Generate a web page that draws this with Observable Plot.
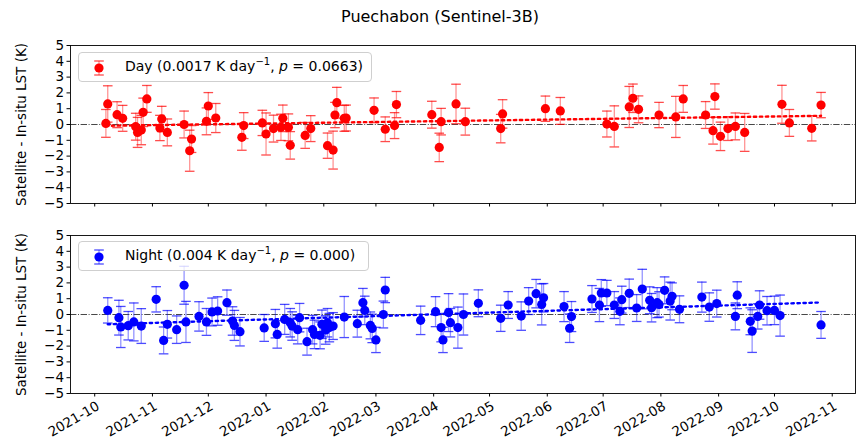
<!DOCTYPE html>
<html>
<head>
<meta charset="utf-8">
<script src="https://cdn.jsdelivr.net/npm/d3@7"></script>
<script src="https://cdn.jsdelivr.net/npm/@observablehq/plot@0.6"></script>
<style>
  html, body { margin: 0; padding: 0; background: white; }
  #wrap { position: relative; width: 860px; height: 442px; font-family: "DejaVu Sans", sans-serif; overflow: hidden; }
  #wrap svg.plot { position: absolute; left: 0; }
  .title { position: absolute; left: 440px; top: 7px; transform: translateX(-50%); font-size: 16px; white-space: nowrap; }
  .legend { position: absolute; border: 1px solid #cfcfcf; border-radius: 4px; background: rgba(255,255,255,0.8); box-sizing: border-box; }
  .legend svg { position: absolute; left: 0; top: 0; }
  .legend span { position: absolute; left: 46px; top: 5px; font-size: 14px; white-space: nowrap; }
  .legend sup { font-size: 10px; vertical-align: 6px; line-height: 0; }
</style>
</head>
<body>
<div id="wrap"></div>
<script>
const titleText = "Puechabon (Sentinel-3B)";
const yLabel = "Satellite - In-situ LST (K)";
const dayLegend = 'Day (0.0017 K day<sup>\u22121</sup>, <i>p</i> = 0.0663)';
const nightLegend = 'Night (0.004 K day<sup>\u22121</sup>, <i>p</i> = 0.000)';

const monthTicks = ["2021-10-01","2021-11-01","2021-12-01","2022-01-01","2022-02-01","2022-03-01","2022-04-01","2022-05-01","2022-06-01","2022-07-01","2022-08-01","2022-09-01","2022-10-01","2022-11-01"];
const monthLabels = ["2021-10","2021-11","2021-12","2022-01","2022-02","2022-03","2022-04","2022-05","2022-06","2022-07","2022-08","2022-09","2022-10","2022-11"];
const yTicks = [-5,-4,-3,-2,-1,0,1,2,3,4,5];
const xDomainDates = ["2021-09-18", "2022-11-13T12:00"];

const dayDates = ["2021-10-07","2021-10-08","2021-10-13","2021-10-16","2021-10-23","2021-10-24","2021-10-26","2021-10-27","2021-10-29",
  "2021-11-05","2021-11-06","2021-11-09","2021-11-18","2021-11-21","2021-11-22","2021-11-30",
  "2021-12-01","2021-12-05","2021-12-19","2021-12-20","2021-12-30",
  "2022-01-01","2022-01-05","2022-01-09","2022-01-10","2022-01-13","2022-01-14","2022-01-22","2022-01-25",
  "2022-02-03","2022-02-06","2022-02-07","2022-02-08","2022-02-12","2022-02-13","2022-02-28",
  "2022-03-06","2022-03-11","2022-03-12","2022-03-31",
  "2022-04-04","2022-04-05","2022-04-13","2022-04-18",
  "2022-05-07","2022-05-08","2022-05-31","2022-06-08",
  "2022-07-03","2022-07-07","2022-07-15","2022-07-17","2022-07-20","2022-07-31",
  "2022-08-09","2022-08-13","2022-08-25","2022-08-29","2022-08-30",
  "2022-09-02","2022-09-06","2022-09-10","2022-09-15",
  "2022-10-05","2022-10-09","2022-10-21","2022-10-26"];
const dayValues = [0.07,1.3,0.62,0.39,-0.14,-0.5,-0.35,0.77,1.62,
  -0.22,0.35,-0.5,0.0,-1.66,-0.92,0.2,
  1.17,0.41,-0.81,-0.07,0.1,
  -0.6,-0.26,-0.18,0.39,-0.18,-1.32,-0.69,-0.26,
  -1.34,-1.62,0.6,1.38,0.39,0.41,0.9,
  -0.3,-0.07,1.26,0.62,
  -1.45,0.18,1.3,0.18,
  -0.26,0.67,1.0,0.86,
  0.03,-0.12,1.11,1.66,0.96,0.6,
  0.48,1.62,0.6,-0.39,1.77,
  -0.75,-0.26,-0.12,-0.5,
  1.28,0.1,-0.24,1.23];
const dayErrors = [0.88,1.15,0.82,0.82,0.85,0.95,0.93,0.9,0.85,
  0.8,0.8,0.85,0.85,1.3,0.85,0.85,
  0.85,0.92,0.82,0.82,0.8,
  1.33,0.85,0.83,0.84,0.85,0.87,0.82,0.82,
  0.8,1.2,0.8,0.97,0.82,0.82,0.78,
  0.78,0.82,0.83,0.85,
  0.9,0.84,1.25,0.85,
  0.9,0.9,0.8,0.85,
  0.82,1.3,1.3,0.9,0.85,0.8,
  1.3,0.85,0.85,0.85,0.8,
  0.9,0.75,0.85,1.2,
  1.2,0.85,0.8,0.8];
const dayTrendDates = ["2021-10-07","2022-10-26"];
const dayTrendValues = [-0.08, 0.55];

const nightDates = ["2021-10-08","2021-10-14","2021-10-15","2021-10-19","2021-10-22","2021-10-26",
  "2021-11-03","2021-11-07","2021-11-09","2021-11-14","2021-11-18","2021-11-19","2021-11-26","2021-11-30",
  "2021-12-03","2021-12-06","2021-12-11","2021-12-14","2021-12-15","2021-12-18","2021-12-31",
  "2022-01-06","2022-01-07","2022-01-11","2022-01-14","2022-01-15","2022-01-18","2022-01-19","2022-01-23","2022-01-26","2022-01-27","2022-01-30","2022-01-31",
  "2022-02-02","2022-02-03","2022-02-04","2022-02-06","2022-02-12","2022-02-19","2022-02-22","2022-02-23","2022-02-26","2022-02-27",
  "2022-03-01","2022-03-05","2022-03-06","2022-03-25",
  "2022-04-02","2022-04-05","2022-04-06","2022-04-09","2022-04-10","2022-04-14","2022-04-17","2022-04-25",
  "2022-05-07","2022-05-11","2022-05-18","2022-05-22","2022-05-26","2022-05-29","2022-05-30",
  "2022-06-10","2022-06-13","2022-06-14","2022-06-25","2022-06-29","2022-06-30",
  "2022-07-03","2022-07-07","2022-07-10","2022-07-11","2022-07-15","2022-07-19","2022-07-22","2022-07-26","2022-07-27","2022-07-30","2022-07-31",
  "2022-08-03","2022-08-06","2022-08-07","2022-08-11","2022-08-23","2022-08-27","2022-08-31",
  "2022-09-10","2022-09-11","2022-09-18","2022-09-19","2022-09-22","2022-09-23","2022-09-27",
  "2022-10-01","2022-10-04","2022-10-26"];
const nightValues = [0.26,-0.2,-0.79,-0.71,-0.47,-0.73,
  0.96,-1.64,-0.62,-0.96,1.85,-0.47,-0.12,-0.47,
  0.16,0.22,0.75,-0.41,-0.69,-1.09,-0.85,
  -0.58,-1.26,-0.31,-0.52,-0.73,-0.96,-0.2,-1.72,-0.96,-1.26,-1.32,-0.62,
  -0.98,-0.52,-0.83,-0.73,-0.16,-0.58,0.75,0.26,-0.69,-0.88,
  -1.61,0.0,1.55,-0.37,
  0.18,-0.83,-1.61,0.12,-0.52,-0.83,0.0,0.71,
  -0.24,0.6,-0.1,0.85,1.32,0.64,1.06,
  0.5,-0.87,-0.13,0.98,0.6,1.36,
  1.36,0.6,0.2,0.94,1.34,0.41,1.61,0.9,0.43,0.75,0.64,
  1.53,0.85,1.15,0.33,1.1,0.47,0.69,
  -0.12,1.22,-0.43,-1.05,-0.12,0.6,0.24,
  0.26,-0.07,-0.66];
const nightErrors = [0.8,1.1,1.3,0.9,1.2,1.1,
  0.8,0.85,0.87,0.87,1.2,1.3,0.93,0.85,
  0.88,0.9,0.8,0.9,0.95,0.9,0.85,
  0.9,0.87,0.95,0.9,0.9,0.9,0.9,0.85,0.9,0.9,0.85,0.9,
  0.9,0.9,0.9,0.85,1.3,0.85,0.9,0.9,0.85,0.9,
  0.8,0.85,0.8,0.9,
  0.95,0.9,0.8,1.2,0.9,1.3,1.3,0.85,
  0.83,0.85,0.9,0.85,0.9,1.3,0.9,
  0.95,0.9,0.95,0.85,1.05,0.85,
  0.8,0.85,0.85,0.85,0.9,0.85,1.25,0.85,0.9,0.95,0.8,
  0.85,1.2,0.85,0.85,0.95,0.9,0.85,
  0.85,0.85,0.85,1.35,0.8,0.9,0.9,
  0.9,1.3,0.85];
const nightTrendDates = ["2021-10-08","2022-10-26"];
const nightTrendValues = [-0.62, 0.76];

// build tables
const parseDate = s => new Date(s.length > 10 ? s + "Z" : s + "T00:00Z");
const toRows = (dates, vals, errs) => dates.map((d, i) => ({date: parseDate(d), v: vals[i], e: errs ? errs[i] : 0}));
const dayData = toRows(dayDates, dayValues, dayErrors);
const nightData = toRows(nightDates, nightValues, nightErrors);
const dayTrend = toRows(dayTrendDates, dayTrendValues);
const nightTrend = toRows(nightTrendDates, nightTrendValues);
const tickRows = monthTicks.map((d, i) => ({date: parseDate(d), label: monthLabels[i]}));
const xDomain = xDomainDates.map(parseDate);

// custom horizontal-cap symbol for error bars
const capSymbol = { draw(ctx, size) { const w = Math.sqrt(size / Math.PI); ctx.moveTo(-w, 0); ctx.lineTo(w, 0); } };

function panel(data, trend, color, showLabels, height, marginBottom) {
  return Plot.plot({
    width: 860, height,
    marginLeft: 70, marginRight: 5, marginTop: 10, marginBottom,
    style: {fontFamily: "DejaVu Sans", fontSize: "13.5px", background: "transparent", color: "black", overflow: "visible"},
    x: {type: "utc", domain: xDomain},
    y: {domain: [-5, 5]},
    marks: [
      Plot.ruleY([0], {stroke: "#333", strokeWidth: 0.9, strokeDasharray: "6.4,1.6,1,1.6"}),
      Plot.ruleX(data, {x: "date", y1: d => d.v - d.e, y2: d => d.v + d.e, stroke: color, strokeOpacity: 0.42, strokeWidth: 1.3}),
      Plot.dot(data, {x: "date", y: d => d.v + d.e, symbol: capSymbol, r: 4.8, stroke: color, strokeOpacity: 0.7, strokeWidth: 1.3}),
      Plot.dot(data, {x: "date", y: d => d.v - d.e, symbol: capSymbol, r: 4.8, stroke: color, strokeOpacity: 0.7, strokeWidth: 1.3}),
      Plot.line(trend, {x: "date", y: "v", stroke: color, strokeWidth: 2.4, strokeDasharray: "2.4,3.6"}),
      Plot.dot(data, {x: "date", y: "v", r: 4.6, fill: color, stroke: "none"}),
      Plot.frame({stroke: "black", strokeWidth: 0.9}),
      Plot.axisY({ticks: yTicks, tickSize: 3.5, tickPadding: 3, tickFormat: d3.format("d"),
        label: yLabel, labelAnchor: "center", labelArrow: "none", labelOffset: 54}),
      Plot.axisX({ticks: tickRows.map(d => d.date), tickSize: 3.5, tickFormat: () => "", label: null}),
      showLabels ? Plot.text(tickRows, {x: "date", text: "label", frameAnchor: "bottom", dy: 7, dx: 1,
        rotate: -30, textAnchor: "end", lineAnchor: "top", fontSize: 13.5}) : null
    ]
  });
}

const wrap = document.getElementById("wrap");
const titleDiv = document.createElement("div");
titleDiv.className = "title"; titleDiv.textContent = titleText; wrap.appendChild(titleDiv);

const topPanel = panel(dayData, dayTrend, "red", false, 180, 12);
topPanel.classList.add("plot"); topPanel.style.top = "35px"; wrap.appendChild(topPanel);
const bottomPanel = panel(nightData, nightTrend, "blue", true, 217, 49);
bottomPanel.classList.add("plot"); bottomPanel.style.top = "225px"; wrap.appendChild(bottomPanel);

function addLegend(html, color, left, topPx, width) {
  const div = document.createElement("div");
  div.className = "legend";
  div.style.left = left + "px"; div.style.top = topPx + "px";
  div.style.width = width + "px"; div.style.height = "30px";
  div.innerHTML = `<svg width="40" height="30">
    <line x1="20" x2="20" y1="8" y2="22" stroke="${color}" stroke-opacity="0.42" stroke-width="1.3"/>
    <line x1="15.2" x2="24.8" y1="8" y2="8" stroke="${color}" stroke-opacity="0.7" stroke-width="1.3"/>
    <line x1="15.2" x2="24.8" y1="22" y2="22" stroke="${color}" stroke-opacity="0.7" stroke-width="1.3"/>
    <circle cx="20" cy="15" r="4.6" fill="${color}"/></svg><span>${html}</span>`;
  wrap.appendChild(div);
}
addLegend(dayLegend, "red", 78, 52, 294);
addLegend(nightLegend, "blue", 78, 241, 291);
</script>
</body>
</html>
